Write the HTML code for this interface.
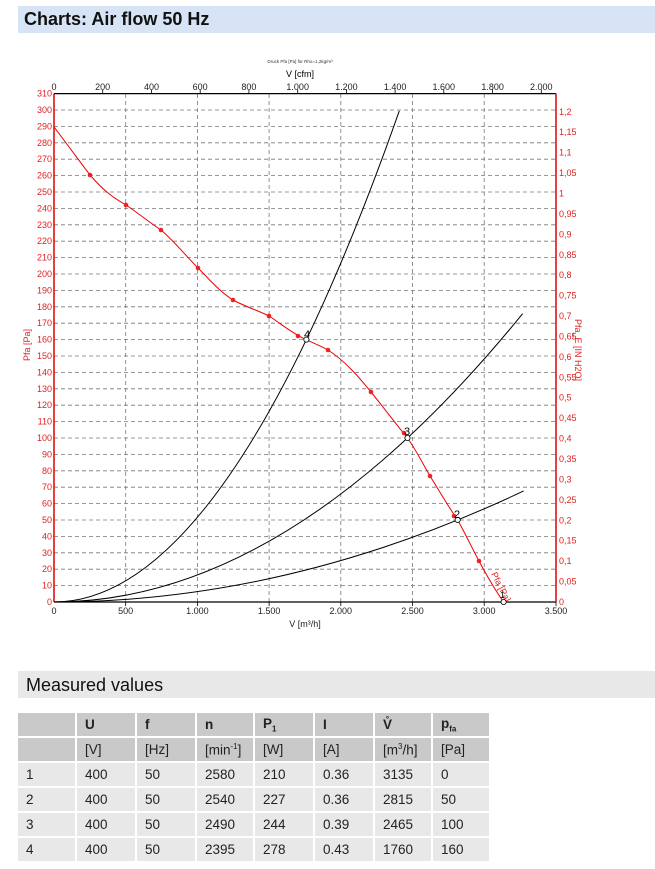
<!DOCTYPE html>
<html><head><meta charset="utf-8"><style>
body{margin:0;background:#fff;width:655px;height:869px;position:relative;font-family:"Liberation Sans",Arial,sans-serif;overflow:hidden}
.hd{position:absolute;left:18px;top:6px;width:637px;height:27px;background:#d7e4f6}
.hd span{position:absolute;left:6px;top:3px;font-size:18px;font-weight:bold;color:#111}
.mv{position:absolute;left:18px;top:671px;width:637px;height:27px;background:#e8e8e8}
.mv span{position:absolute;left:8px;top:4px;font-size:18px;color:#111}
table{position:absolute;left:18px;top:713px;border-collapse:collapse;font-size:13.5px;color:#222}
td{height:23px;padding:0 0 0 8px;border:2px solid #fff;border-width:0 2px 2px 0;background:#e8e8e8;vertical-align:middle}
tr.h td{background:#c9c9c9}
tr.h1 td{font-weight:bold}
</style></head><body>
<div class="hd"><span>Charts: Air flow 50 Hz</span></div>
<svg width="655" height="650" style="position:absolute;left:0;top:0" font-family="Liberation Sans,Arial,sans-serif">
<text x="300" y="63" font-size="4.5" text-anchor="middle" fill="#333">Druck Pfa [Pa] für Rho=1,2kg/m³</text>
<text x="300" y="77" font-size="9" text-anchor="middle">V [cfm]</text>
<g font-size="9" text-anchor="middle" fill="#222">
<text x="54" y="90">0</text><text x="102.7" y="90">200</text><text x="151.5" y="90">400</text><text x="200.2" y="90">600</text><text x="248.9" y="90">800</text><text x="297.7" y="90">1.000</text><text x="346.4" y="90">1.200</text><text x="395.1" y="90">1.400</text><text x="443.8" y="90">1.600</text><text x="492.6" y="90">1.800</text><text x="541.3" y="90">2.000</text>
<text x="54" y="614">0</text><text x="125.7" y="614">500</text><text x="197.4" y="614">1.000</text><text x="269.1" y="614">1.500</text><text x="340.8" y="614">2.000</text><text x="412.5" y="614">2.500</text><text x="484.2" y="614">3.000</text><text x="556" y="614">3.500</text>
<text x="305" y="627">V [m³/h]</text>
</g>
<g stroke="#777" stroke-width="0.8" stroke-dasharray="4,3" fill="none">
<path d="M125.7 94V602M197.4 94V602M269.1 94V602M340.8 94V602M412.5 94V602M484.2 94V602"/>
<path d="M54 585.6H556M54 569.2H556M54 552.8H556M54 536.4H556M54 520H556M54 503.6H556M54 487.2H556M54 470.8H556M54 454.4H556M54 438H556M54 421.6H556M54 405.2H556M54 388.8H556M54 372.4H556M54 356H556M54 339.6H556M54 323.2H556M54 306.8H556M54 290.4H556M54 274H556M54 257.6H556M54 241.2H556M54 224.8H556M54 208.4H556M54 192H556M54 175.6H556M54 159.2H556M54 142.8H556M54 126.4H556M54 110H556"/>
</g>
<path d="M54 93.6H556M54 602H556" stroke="#000" stroke-width="1.2"/>
<path d="M54 93.6V602" stroke="#d00" stroke-width="1.5"/>
<path d="M556 93.6V602" stroke="#d00" stroke-width="1.5"/>
<g stroke="#000" stroke-width="0.8">
<path d="M102.7 93.6v-4M151.5 93.6v-4M200.2 93.6v-4M248.9 93.6v-4M297.7 93.6v-4M346.4 93.6v-4M395.1 93.6v-4M443.8 93.6v-4M492.6 93.6v-4M541.3 93.6v-4"/>
<path d="M125.7 602v4M197.4 602v4M269.1 602v4M340.8 602v4M412.5 602v4M484.2 602v4M556 602v4"/>
</g>
<g font-size="9" fill="#e02020" text-anchor="end">
<text x="52" y="605">0</text><text x="52" y="588.6">10</text><text x="52" y="572.2">20</text><text x="52" y="555.8">30</text><text x="52" y="539.4">40</text><text x="52" y="523">50</text><text x="52" y="506.6">60</text><text x="52" y="490.2">70</text><text x="52" y="473.8">80</text><text x="52" y="457.4">90</text><text x="52" y="441">100</text><text x="52" y="424.6">110</text><text x="52" y="408.2">120</text><text x="52" y="391.8">130</text><text x="52" y="375.4">140</text><text x="52" y="359">150</text><text x="52" y="342.6">160</text><text x="52" y="326.2">170</text><text x="52" y="309.8">180</text><text x="52" y="293.4">190</text><text x="52" y="277">200</text><text x="52" y="260.6">210</text><text x="52" y="244.2">220</text><text x="52" y="227.8">230</text><text x="52" y="211.4">240</text><text x="52" y="195">250</text><text x="52" y="178.6">260</text><text x="52" y="162.2">270</text><text x="52" y="145.8">280</text><text x="52" y="129.4">290</text><text x="52" y="113">300</text><text x="52" y="96.6">310</text>
</g>
<g font-size="9" fill="#e02020">
<text x="559" y="605">0</text><text x="559" y="584.6">0,05</text><text x="559" y="564.1">0,1</text><text x="559" y="543.7">0,15</text><text x="559" y="523.3">0,2</text><text x="559" y="502.9">0,25</text><text x="559" y="482.4">0,3</text><text x="559" y="462">0,35</text><text x="559" y="441.6">0,4</text><text x="559" y="421.2">0,45</text><text x="559" y="400.7">0,5</text><text x="559" y="380.3">0,55</text><text x="559" y="359.9">0,6</text><text x="559" y="339.5">0,65</text><text x="559" y="319">0,7</text><text x="559" y="298.6">0,75</text><text x="559" y="278.2">0,8</text><text x="559" y="257.8">0,85</text><text x="559" y="237.3">0,9</text><text x="559" y="216.9">0,95</text><text x="559" y="196.5">1</text><text x="559" y="176.1">1,05</text><text x="559" y="155.6">1,1</text><text x="559" y="135.2">1,15</text><text x="559" y="114.8">1,2</text>
<text transform="translate(30,345) rotate(-90)" text-anchor="middle">Pfa [Pa]</text>
<text transform="translate(575,350) rotate(90)" text-anchor="middle">Pfa_E [IN H2O]</text>
<text transform="translate(491,574) rotate(63)">Pfa [Pa]</text>
</g>
<g fill="none" stroke="#000" stroke-width="1" transform="matrix(0.1434,0,0,-1.64,54,602)">
<path vector-effect="non-scaling-stroke" d="M0 0Q1204 0 2408 299.5"/>
<path vector-effect="non-scaling-stroke" d="M0 0Q1634 0 3268 175.8"/>
<path vector-effect="non-scaling-stroke" d="M0 0Q1637 0 3275 67.7"/>
</g>
<path fill="none" stroke="#e00" stroke-width="1" d="M54 127C70 148 80 162 90 175C103 190 112 197 126 205C138 213 149 222 161 230C175 242 186 256 198 268C209 279 220 292 233 300C246 307 257 310 269 316C280 323 290 332 306 339.6C315 344 321 346 328 350C345 361 358 376 371 392C384 408 396 424 407.5 438C416 450 423 464 430 476C440 492 448 506 457.7 520C466 535 472 548 479 561C487 576 495 590 503.6 602"/>
<g fill="#e22">
<circle cx="90" cy="175" r="2.3"/><circle cx="126" cy="205" r="2.3"/><circle cx="161" cy="230" r="2.3"/><circle cx="198" cy="268" r="2.3"/><circle cx="233" cy="300" r="2.3"/><circle cx="269" cy="316" r="2.3"/><circle cx="298" cy="336" r="2.3"/><circle cx="328" cy="350" r="2.3"/><circle cx="371" cy="392" r="2.3"/><circle cx="404" cy="433" r="2.3"/><circle cx="430" cy="476" r="2.3"/><circle cx="454" cy="516" r="2.3"/><circle cx="479" cy="561" r="2.3"/>
</g>
<g fill="#fff" stroke="#000" stroke-width="0.8">
<circle cx="306.4" cy="339.6" r="2.6"/><circle cx="407.5" cy="438" r="2.6"/><circle cx="457.7" cy="520" r="2.6"/><circle cx="503.6" cy="602" r="2.6"/>
</g>
<g font-size="11" fill="#000">
<text x="304" y="338">4</text><text x="404" y="435">3</text><text x="454" y="518">2</text><text x="500" y="598" font-size="9">1</text>
</g>
</svg>
<div class="mv"><span>Measured values</span></div>
<table>
<tr class="h h1"><td style="width:49px"></td><td style="width:50px">U</td><td style="width:50px">f</td><td style="width:48px">n</td><td style="width:50px">P<sub style="font-size:8px">1</sub></td><td style="width:50px">I</td><td style="width:48px">V̊</td><td style="width:48px">p<sub style="font-size:8px">fa</sub></td></tr>
<tr class="h"><td></td><td>[V]</td><td>[Hz]</td><td>[min<sup style="font-size:8px">-1</sup>]</td><td>[W]</td><td>[A]</td><td>[m<sup style="font-size:8px">3</sup>/h]</td><td>[Pa]</td></tr>
<tr><td>1</td><td>400</td><td>50</td><td>2580</td><td>210</td><td>0.36</td><td>3135</td><td>0</td></tr>
<tr><td>2</td><td>400</td><td>50</td><td>2540</td><td>227</td><td>0.36</td><td>2815</td><td>50</td></tr>
<tr><td>3</td><td>400</td><td>50</td><td>2490</td><td>244</td><td>0.39</td><td>2465</td><td>100</td></tr>
<tr><td>4</td><td>400</td><td>50</td><td>2395</td><td>278</td><td>0.43</td><td>1760</td><td>160</td></tr>
</table>
</body></html>
